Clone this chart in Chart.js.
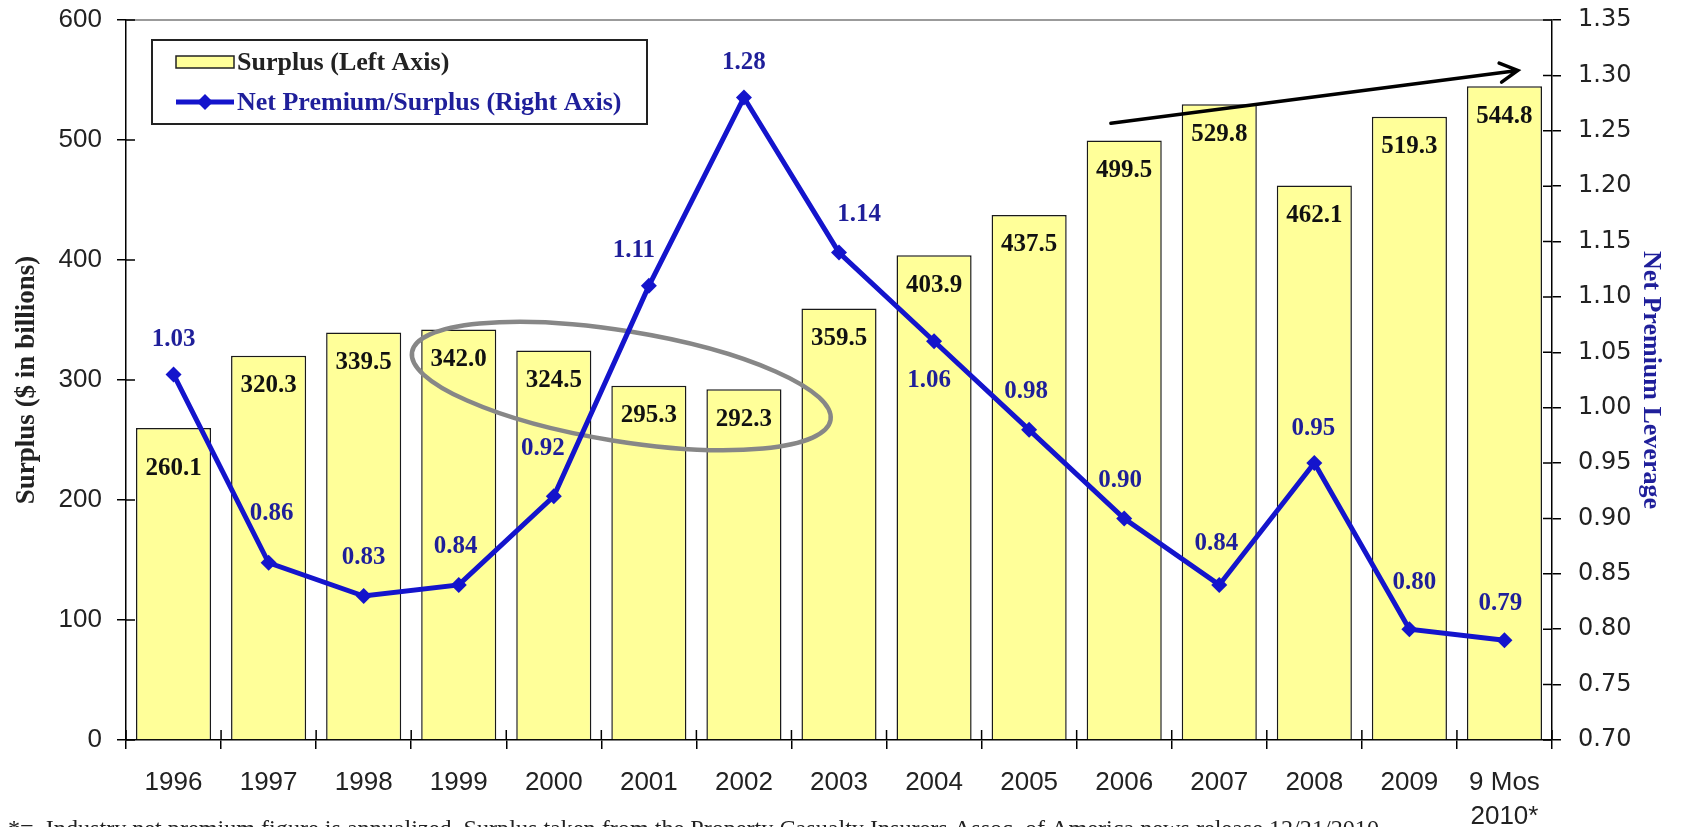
<!DOCTYPE html>
<html>
<head>
<meta charset="utf-8">
<script src="https://cdn.jsdelivr.net/npm/chart.js@4.4.1/dist/chart.umd.min.js"></script>
<style>
  html, body { margin: 0; padding: 0; background: #fff; }
</style>
</head>
<body>
<canvas id="chart" width="1686" height="827"></canvas>
<script>
// P&C industry surplus (bars, left axis) vs. net premium / surplus leverage (line, right axis).

const years    = ["1996", "1997", "1998", "1999", "2000", "2001", "2002", "2003",
                  "2004", "2005", "2006", "2007", "2008", "2009", ["9 Mos", "2010*"]];
const surplus  = [260.1, 320.3, 339.5, 342.0, 324.5, 295.3, 292.3, 359.5,
                  403.9, 437.5, 499.5, 529.8, 462.1, 519.3, 544.8];
const leverage = [1.03, 0.86, 0.83, 0.84, 0.92, 1.11, 1.28, 1.14,
                  1.06, 0.98, 0.90, 0.84, 0.95, 0.80, 0.79];

const footnote = "*=  Industry net premium figure is annualized. Surplus taken from the " +
                 "Property Casualty Insurers Assoc. of America news release 12/21/2010.";

// label placement tweaks (pixels from the marker / bar top)
const lineLabelOffsets = [[0, -35], [3, -49], [0, -38], [-3, -38], [-11, -48], [-15, -35],
                          [0, -35], [20, -38], [-5, 39], [-3, -38], [-4, -38], [-3, -41],
                          [-1, -35], [5, -47], [-4, -37]];
const barLabelDrop = [41, 30, 30, 30, 30, 30, 30, 30, 30, 30, 30, 30, 30, 30, 30];

// hand-drawn annotations, in data units (category index, left-axis value)
const ring  = { cat: 4.71, value: 295, halfCats: 2.23, halfValue: 46, tiltDeg: 9.2 };
const arrow = { fromCat: 9.86, fromValue: 514, toCat: 14.14, toValue: 558 };

const BLUE      = "#1414cc";
const NAVY      = "#1f1f9a";
const SERIF     = "'Liberation Serif', 'Times New Roman', serif";
const SANS      = "'Liberation Sans', Arial, sans-serif";

const overlay = {
  id: "overlay",
  afterDatasetDraw(chart, args) {
    if (args.index !== 0) return;           // after the bars, under the line
    const { ctx, scales: { x, y } } = chart;
    const cx = x.getPixelForValue(ring.cat);
    const cy = y.getPixelForValue(ring.value);
    const rx = ring.halfCats * (x.getPixelForValue(1) - x.getPixelForValue(0));
    const ry = Math.abs(y.getPixelForValue(ring.halfValue) - y.getPixelForValue(0));
    ctx.save();
    ctx.strokeStyle = "#878787";
    ctx.lineWidth = 4.5;
    ctx.beginPath();
    ctx.ellipse(cx, cy, rx, ry, ring.tiltDeg * Math.PI / 180, 0, Math.PI * 2);
    ctx.stroke();
    ctx.restore();
  },
  afterDatasetsDraw(chart) {
    const { ctx, chartArea: a, scales: { x, y, y1 } } = chart;
    ctx.save();

    // top frame line
    ctx.strokeStyle = "#7a7a7a";
    ctx.lineWidth = 1.5;
    ctx.beginPath();
    ctx.moveTo(a.left, a.top);
    ctx.lineTo(a.right, a.top);
    ctx.stroke();

    // tick marks also poke inward
    ctx.strokeStyle = "#000";
    ctx.beginPath();
    y.ticks.forEach(t => {
      const py = y.getPixelForValue(t.value);
      ctx.moveTo(a.left, py); ctx.lineTo(a.left + 9, py);
    });
    y1.ticks.forEach(t => {
      const py = y1.getPixelForValue(t.value);
      ctx.moveTo(a.right, py); ctx.lineTo(a.right - 9, py);
    });
    for (let i = 0; i <= years.length; i++) {
      const px = x.getPixelForValue(i - 0.5);
      ctx.moveTo(px, a.bottom); ctx.lineTo(px, a.bottom - 10);
    }
    ctx.stroke();

    // bar values
    ctx.font = "bold 25px " + SERIF;
    ctx.textAlign = "center";
    ctx.textBaseline = "middle";
    ctx.fillStyle = "#111";
    const bars = chart.getDatasetMeta(0).data;
    bars.forEach((b, i) => {
      ctx.fillText(surplus[i].toFixed(1), b.x, b.y + barLabelDrop[i]);
    });

    // line values
    ctx.fillStyle = NAVY;
    const pts = chart.getDatasetMeta(1).data;
    pts.forEach((p, i) => {
      const [dx, dy] = lineLabelOffsets[i];
      ctx.fillText(leverage[i].toFixed(2), p.x + dx, p.y + dy);
    });

    // arrow
    const x0 = x.getPixelForValue(arrow.fromCat), y0 = y.getPixelForValue(arrow.fromValue);
    const x1 = x.getPixelForValue(arrow.toCat),   y1p = y.getPixelForValue(arrow.toValue);
    const ang = Math.atan2(y1p - y0, x1 - x0);
    ctx.strokeStyle = "#000";
    ctx.lineWidth = 3.5;
    ctx.lineCap = "round";
    ctx.beginPath();
    ctx.moveTo(x0, y0); ctx.lineTo(x1, y1p);
    ctx.moveTo(x1 - 20 * Math.cos(ang - 0.5), y1p - 20 * Math.sin(ang - 0.5));
    ctx.lineTo(x1, y1p);
    ctx.lineTo(x1 - 20 * Math.cos(ang + 0.5), y1p - 20 * Math.sin(ang + 0.5));
    ctx.stroke();
    ctx.restore();
  },
  afterDraw(chart) {
    const { ctx, chartArea: a } = chart;
    ctx.save();

    // legend box
    const lx = a.left + 26, ly = a.top + 20, lw = 495, lh = 84;
    ctx.fillStyle = "#fff";
    ctx.fillRect(lx, ly, lw, lh);
    ctx.strokeStyle = "#222";
    ctx.lineWidth = 2;
    ctx.strokeRect(lx, ly, lw, lh);

    const sx = lx + 24, sw = 58;
    const r1 = ly + 22, r2 = ly + 62;
    ctx.fillStyle = "#ffff99";
    ctx.fillRect(sx, r1 - 6, sw, 12);
    ctx.strokeStyle = "#222";
    ctx.lineWidth = 1.5;
    ctx.strokeRect(sx, r1 - 6, sw, 12);

    ctx.strokeStyle = BLUE;
    ctx.lineWidth = 5;
    ctx.beginPath(); ctx.moveTo(sx, r2); ctx.lineTo(sx + sw, r2); ctx.stroke();
    ctx.fillStyle = BLUE;
    ctx.beginPath();
    ctx.moveTo(sx + sw / 2, r2 - 8); ctx.lineTo(sx + sw / 2 + 8, r2);
    ctx.lineTo(sx + sw / 2, r2 + 8); ctx.lineTo(sx + sw / 2 - 8, r2);
    ctx.closePath(); ctx.fill();

    ctx.font = "bold 26px " + SERIF;
    ctx.textAlign = "left";
    ctx.textBaseline = "middle";
    ctx.fillStyle = "#222";
    ctx.fillText("Surplus (Left Axis)", sx + sw + 3, r1 + 1);
    ctx.fillStyle = NAVY;
    ctx.fillText("Net Premium/Surplus (Right Axis)", sx + sw + 3, r2 + 1);

    // footnote, cut off by the bottom edge like the original
    ctx.font = "24px " + SERIF;
    ctx.fillStyle = "#222";
    ctx.textBaseline = "alphabetic";
    const w = ctx.measureText(footnote).width;
    const k = (1385 - 8) / w;
    ctx.translate(8, 836);
    ctx.scale(k, 1);
    ctx.fillText(footnote, 0, 0);
    ctx.restore();
  }
};

const axisTick = { family: SANS, size: 26, lineHeight: 1.3 };
const rightTick = { family: "'DejaVu Sans', sans-serif", size: 24, lineHeight: 1.3 };

// keep the plot box fixed: no extra room reserved for half-height edge labels
const fixWidth = w => s => { s.width = w; s.paddingTop = 0; s.paddingBottom = 0; };

new Chart(document.getElementById("chart"), {
  data: {
    labels: years,
    datasets: [
      {
        type: "bar",
        label: "Surplus (Left Axis)",
        data: surplus,
        yAxisID: "y",
        backgroundColor: "#ffff99",
        borderColor: "#1a1a1a",
        borderWidth: 1.5,
        barPercentage: 0.79,
        categoryPercentage: 1.0,
        order: 1
      },
      {
        type: "line",
        label: "Net Premium/Surplus (Right Axis)",
        data: leverage,
        yAxisID: "y1",
        borderColor: BLUE,
        borderWidth: 5,
        backgroundColor: BLUE,
        pointStyle: "rectRot",
        pointRadius: 8,
        pointBorderWidth: 0,
        pointBackgroundColor: BLUE,
        tension: 0,
        order: 0
      }
    ]
  },
  options: {
    responsive: false,
    animation: false,
    devicePixelRatio: 1,
    layout: { padding: { top: 20, left: 0, right: 0, bottom: 0 } },
    plugins: {
      legend: { display: false },
      tooltip: { enabled: false }
    },
    scales: {
      x: {
        type: "category",
        offset: true,
        grid: { offset: true, drawOnChartArea: false, tickLength: 9, color: "#000", lineWidth: 1.5 },
        border: { color: "#000", width: 1.5 },
        ticks: { font: axisTick, color: "#222", padding: 17, maxRotation: 0, autoSkip: false },
        afterFit: s => { s.height = 87; s.paddingLeft = 0; s.paddingRight = 0; }
      },
      y: {
        position: "left",
        min: 0,
        max: 600,
        grid: { drawOnChartArea: false, tickLength: 9, color: "#000", lineWidth: 1.5 },
        border: { color: "#000", width: 1.5 },
        ticks: { stepSize: 100, font: axisTick, color: "#222", padding: 15 },
        title: {
          display: true,
          text: "Surplus ($ in billions)",
          color: "#222",
          font: { family: SERIF, size: 27, weight: "bold" },
          padding: { top: 11, bottom: 0 }
        },
        afterFit: fixWidth(126)
      },
      y1: {
        position: "right",
        min: 0.70,
        max: 1.35,
        grid: { drawOnChartArea: false, tickLength: 9, color: "#000", lineWidth: 1.5 },
        border: { color: "#000", width: 1.5 },
        ticks: { stepSize: 0.05, font: rightTick, color: "#222", padding: 17,
                 callback: v => v.toFixed(2) },
        title: {
          display: true,
          text: "Net Premium Leverage",
          color: NAVY,
          font: { family: SERIF, size: 26, weight: "bold" },
          padding: { top: 20, bottom: 0 }
        },
        afterFit: fixWidth(134)
      }
    }
  },
  plugins: [overlay]
});
</script>
</body>
</html>
